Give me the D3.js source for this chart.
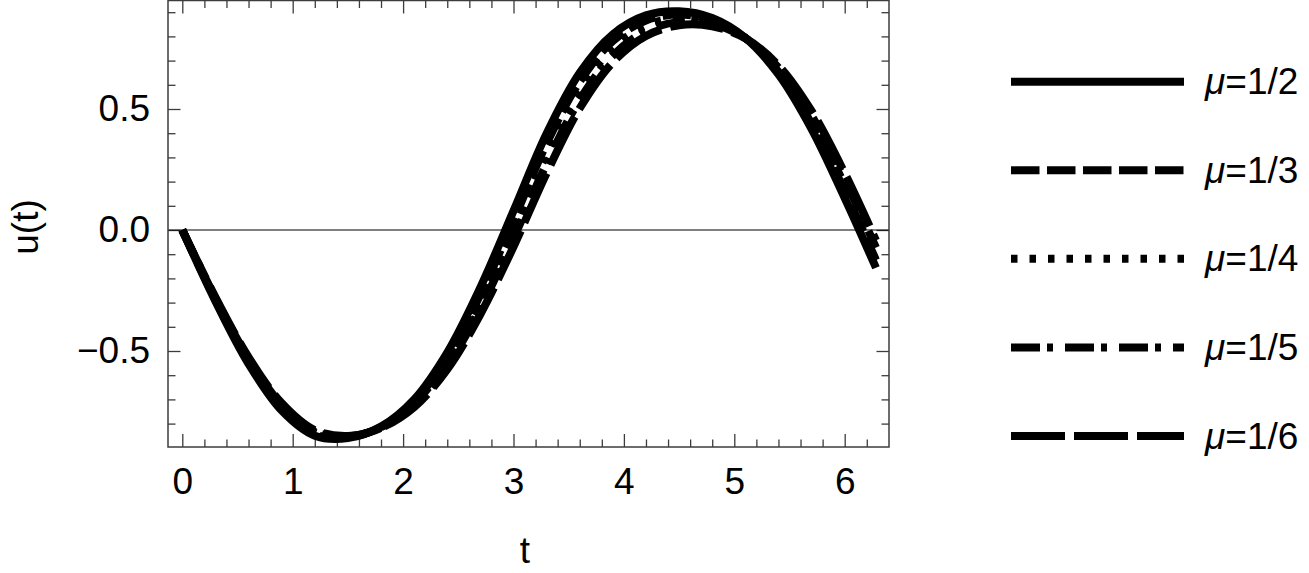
<!DOCTYPE html>
<html>
<head>
<meta charset="utf-8">
<script src="https://cdn.jsdelivr.net/npm/d3@7"></script>
<style>
  body { margin: 0; background: #fff; }
  svg { display: block; }
  text { font-family: "Liberation Sans", Arial, sans-serif; }
</style>
</head>
<body>
<svg id="chart" width="1309" height="573"></svg>
<script>
// ---- data ----
const tValues = [0, 0.3, 0.6, 0.9, 1.2, 1.5, 1.8, 2.1, 2.4, 2.7, 3.0, 3.3, 3.6, 3.9, 4.2, 4.5, 4.8, 5.1, 5.4, 5.7, 6.0, 6.2832];
const uMu2 = [0, -0.294, -0.553, -0.746, -0.850, -0.860, -0.812, -0.700, -0.506, -0.237, 0.079, 0.399, 0.650, 0.809, 0.887, 0.904, 0.876, 0.794, 0.643, 0.417, 0.132, -0.156];
const uMu3 = [0, -0.289, -0.545, -0.737, -0.844, -0.857, -0.814, -0.708, -0.525, -0.267, 0.039, 0.357, 0.613, 0.781, 0.866, 0.890, 0.867, 0.794, 0.654, 0.438, 0.161, -0.124];
const uMu4 = [0, -0.285, -0.538, -0.729, -0.838, -0.855, -0.815, -0.717, -0.543, -0.295, 0.000, 0.315, 0.576, 0.751, 0.845, 0.876, 0.859, 0.794, 0.663, 0.456, 0.185, -0.099];
const uMu5 = [0, -0.281, -0.531, -0.722, -0.833, -0.853, -0.817, -0.725, -0.560, -0.323, -0.035, 0.274, 0.538, 0.721, 0.822, 0.860, 0.851, 0.793, 0.671, 0.473, 0.208, -0.073];
const uMu6 = [0, -0.278, -0.525, -0.715, -0.827, -0.851, -0.818, -0.732, -0.576, -0.348, -0.069, 0.235, 0.503, 0.693, 0.802, 0.846, 0.842, 0.792, 0.680, 0.492, 0.235, -0.043];
const seriesLabels = ["1/2", "1/3", "1/4", "1/5", "1/6"];
const seriesDash = ["none", "28.5,7.5", "6.5,12", "29,7,6,12", "54,9"];
const xMajorTicks = [0, 1, 2, 3, 4, 5, 6];
const yMajorTicks = [-0.5, 0, 0.5];
const yTickLabels = ["\u22120.5", "0.0", "0.5"];

const seriesValues = [uMu2, uMu3, uMu4, uMu5, uMu6];

// ---- layout ----
const svg = d3.select("#chart");
const L = 168, R = 889, T = 0.5, B = 447;
const x = d3.scaleLinear().domain([-0.1295, 6.4013]).range([L, R]);
const y = d3.scaleLinear().domain([-0.8967, 0.9504]).range([B, 0]);

const xMinor = d3.range(0, 32).map(i => +(i * 0.2).toFixed(2)).filter(v => !xMajorTicks.includes(v) && v <= 6.4);
const yMinor = d3.range(-8, 10).map(i => +(i * 0.1).toFixed(2)).filter(v => !yMajorTicks.includes(v));

const frameColor = "#3c3c3c";
const fontSize = 37;

function styleAxis(g) {
  g.select(".domain").remove();
  g.selectAll(".tick line").attr("stroke", frameColor).attr("stroke-width", 1.3);
  g.selectAll(".tick text").attr("fill", "#000").style("font-size", fontSize + "px")
    .style("font-family", '"Liberation Sans", Arial, sans-serif');
}

// bottom axis major (labels) and minor
svg.append("g").attr("transform", `translate(0,${B})`)
  .call(d3.axisBottom(x).tickValues(xMajorTicks).tickSizeInner(-13).tickSizeOuter(0).tickPadding(21).tickFormat(d3.format("d")))
  .call(styleAxis);
svg.append("g").attr("transform", `translate(0,${B})`)
  .call(d3.axisBottom(x).tickValues(xMinor).tickSizeInner(-7.5).tickSizeOuter(0).tickFormat(""))
  .call(styleAxis);
// top axis
svg.append("g").attr("transform", `translate(0,${T})`)
  .call(d3.axisTop(x).tickValues(xMajorTicks).tickSizeInner(-13).tickSizeOuter(0).tickFormat(""))
  .call(styleAxis);
svg.append("g").attr("transform", `translate(0,${T})`)
  .call(d3.axisTop(x).tickValues(xMinor).tickSizeInner(-7.5).tickSizeOuter(0).tickFormat(""))
  .call(styleAxis);
// left axis
svg.append("g").attr("transform", `translate(${L},0)`)
  .call(d3.axisLeft(y).tickValues(yMajorTicks).tickSizeInner(-12.5).tickSizeOuter(0).tickPadding(18)
    .tickFormat((d, i) => yTickLabels[i]))
  .call(styleAxis);
svg.append("g").attr("transform", `translate(${L},0)`)
  .call(d3.axisLeft(y).tickValues(yMinor).tickSizeInner(-7.5).tickSizeOuter(0).tickFormat(""))
  .call(styleAxis);
// right axis
svg.append("g").attr("transform", `translate(${R},0)`)
  .call(d3.axisRight(y).tickValues(yMajorTicks).tickSizeInner(-12.5).tickSizeOuter(0).tickFormat(""))
  .call(styleAxis);
svg.append("g").attr("transform", `translate(${R},0)`)
  .call(d3.axisRight(y).tickValues(yMinor).tickSizeInner(-7.5).tickSizeOuter(0).tickFormat(""))
  .call(styleAxis);

// zero line
svg.append("line")
  .attr("x1", L).attr("x2", R).attr("y1", y(0)).attr("y2", y(0))
  .attr("stroke", "#000").attr("stroke-width", 1.2);

// clip
svg.append("clipPath").attr("id", "plotclip").append("rect")
  .attr("x", L).attr("y", 0).attr("width", R - L).attr("height", B);

// curves
const line = d3.line().x(d => x(d[0])).y(d => y(d[1])).curve(d3.curveCatmullRom.alpha(0.5));
const plotG = svg.append("g").attr("clip-path", "url(#plotclip)");
seriesValues.forEach((vals, i) => {
  plotG.append("path")
    .datum(tValues.map((t, j) => [t, vals[j]]))
    .attr("d", line)
    .attr("fill", "none")
    .attr("stroke", "#000")
    .attr("stroke-width", 8)
    .attr("stroke-linecap", "butt")
    .attr("stroke-linejoin", "round")
    .attr("stroke-dasharray", seriesDash[i]);
});

// frame
svg.append("rect")
  .attr("x", L).attr("y", T).attr("width", R - L).attr("height", B - T)
  .attr("fill", "none").attr("stroke", frameColor).attr("stroke-width", 1.5);

// axis labels
svg.append("text").attr("x", 525).attr("y", 563).attr("text-anchor", "middle")
  .style("font-size", fontSize + "px").text("t");
svg.append("text").attr("transform", "translate(38,227) rotate(-90)").attr("text-anchor", "middle")
  .style("font-size", fontSize + "px").text("u(t)");

// legend
const legY = d3.scalePoint().domain(seriesLabels).range([81.7, 436]);
const leg = svg.append("g");
seriesLabels.forEach((lab, i) => {
  const yy = legY(lab);
  leg.append("line")
    .attr("x1", 1011).attr("x2", 1184).attr("y1", yy).attr("y2", yy)
    .attr("stroke", "#000").attr("stroke-width", 8)
    .attr("stroke-linecap", "butt")
    .attr("stroke-dasharray", seriesDash[i]);
  const tx = leg.append("text").attr("x", 1205).attr("y", yy + 12.5)
    .style("font-size", fontSize + "px");
  tx.append("tspan").style("font-style", "italic").text("\u03bc");
  tx.append("tspan").text("=" + lab);
});
</script>
</body>
</html>
